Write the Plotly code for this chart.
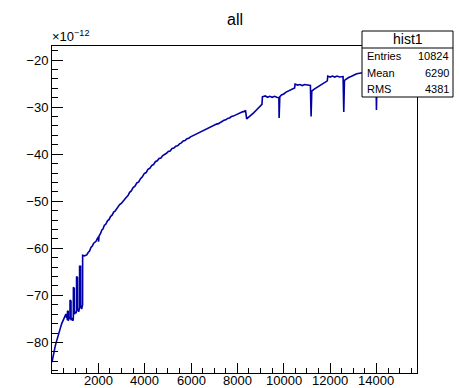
import plotly.graph_objects as go

# ---- data (x: bin, y: value in units of 1e-12) ----
x_vals = [0, 40, 80, 130, 170, 220, 270, 320, 370, 420, 470, 520, 560, 600,
          630, 650, 660, 667, 668, 700, 702, 740, 775, 778, 820, 822, 860, 900,
          920, 923, 960, 962, 1000, 1040, 1058, 1060, 1100, 1102, 1150, 1188,
          1190, 1235, 1237, 1280, 1320, 1322,
          1400, 1500, 1560, 1620, 1680, 1740, 1800, 1850, 1900, 1950, 2000, 2010, 2030,
          2100, 2150, 2200, 2260, 2320, 2400, 2460, 2520, 2600, 2660, 2720, 2800, 2860,
          2920, 3000, 3060, 3120, 3200, 3280, 3350, 3420, 3500, 3580, 3660, 3740, 3820,
          3900, 3980, 4060, 4140, 4220, 4300, 4380, 4460, 4540, 4620, 4700, 4780, 4860,
          4940, 5020, 5100, 5180, 5260, 5340, 5420, 5500, 5580, 5660, 5740, 5820, 5900,
          5980, 6060, 6140, 6220, 6300, 6380, 6460, 6540, 6620, 6700, 6780, 6860, 6940,
          7020, 7100, 7180, 7260, 7340, 7420, 7500, 7580, 7660, 7740, 7820, 7900, 7980,
          8060, 8140, 8220, 8300, 8350,
          8400, 8450, 8530, 8600, 8700, 8800, 8900, 9000, 9060, 9080, 9200, 9300, 9400,
          9500, 9600, 9700, 9790, 9800, 9830, 9900, 10000, 10100, 10200, 10300, 10400,
          10470, 10490, 10600, 10700, 10800, 10900, 11000, 11150, 11180, 11210, 11300,
          11400, 11500, 11600, 11700, 11800, 11880, 11900, 12000, 12100, 12200, 12300,
          12400, 12560, 12590, 12620, 12700, 12800, 12900, 13000, 13150, 13400, 13700,
          13980, 14000, 14030, 14300]
y_vals = [-84.2, -83.0, -82.0, -81.0, -80.2, -79.2, -78.3, -77.5, -76.8, -76.0, -75.4, -74.9, -74.4, -74.0,
          -74.8, -73.9, -75.3, -75.0, -73.4, -73.3, -75.4, -74.6, -75.0, -71.0, -71.2, -75.3, -74.8, -75.4,
          -75.0, -68.3, -68.5, -74.0, -73.6, -73.8, -73.2, -66.0, -66.2, -72.8, -73.5, -72.6,
          -63.8, -63.8, -72.4, -72.9, -72.0, -61.5,
          -61.6, -61.4, -60.9, -60.6, -59.8, -59.5, -58.9, -58.7, -58.5, -58.0, -57.6, -58.6, -57.4,
          -56.8, -56.1, -55.9, -55.1, -54.9, -54.1, -53.9, -53.3, -52.9, -52.3, -52.1, -51.5, -51.2,
          -50.7, -50.4, -49.9, -49.7, -49.2, -48.8, -48.1, -47.8, -47.1, -46.8, -46.1, -45.9, -45.2,
          -44.8, -44.1, -43.9, -43.2, -43.0, -42.4, -42.2, -41.6, -41.4, -40.9, -40.8, -40.3, -40.1,
          -39.8, -39.4, -39.3, -38.8, -38.7, -38.3, -38.2, -37.8, -37.6, -37.2, -37.1, -36.7, -36.6,
          -36.3, -36.1, -35.9, -35.7, -35.5, -35.4, -35.1, -35.0, -34.7, -34.6, -34.3, -34.2, -33.9,
          -33.8, -33.6, -33.5, -33.2, -33.1, -32.8, -32.7, -32.4, -32.3, -32.0, -31.9, -31.7, -31.6,
          -31.3, -31.2, -31.0, -30.9, -30.7,
          -32.5, -32.3, -32.0, -31.7, -31.2, -30.7, -30.2, -29.7, -29.4, -27.8, -27.6, -27.9, -27.7,
          -27.9, -27.7, -27.9, -28.0, -32.3, -27.8, -27.4, -27.2, -26.8, -26.6, -26.3, -26.1,
          -25.9, -25.1, -25.3, -25.2, -25.4, -25.2, -25.3, -25.4, -32.0, -26.6, -26.2,
          -25.9, -25.6, -25.3, -25.0, -24.7, -24.4, -23.4, -23.6, -23.4, -23.6, -23.4,
          -23.6, -23.5, -31.0, -24.3, -24.0, -23.7, -23.5, -23.3, -22.9, -22.7, -22.5,
          -22.4, -30.6, -22.4, -22.2]

title_text = "all"
stats_name = "hist1"
stats_labels = ["Entries", "Mean", "RMS"]
stats_values = ["10824", "6290", "4381"]
x_ticks = [2000, 4000, 6000, 8000, 10000, 12000, 14000]
x_ticktext = ["2000", "4000", "6000", "8000", "10000", "12000", "14000"]
y_ticks = [-80, -70, -60, -50, -40, -30, -20]

W, H = 460, 388
L, R, T, B = 52, 43, 46, 15
PW, PH = W - L - R, H - T - B


def px(x):
    return (x - L) / PW


def py(y):
    return (H - B - y) / PH


FONT = "Liberation Sans, Arial, Helvetica, sans-serif"

fig = go.Figure()
fig.add_trace(go.Scatter(x=x_vals, y=y_vals, mode="lines",
                         line=dict(color="rgb(0,0,165)", width=1.6),
                         hoverinfo="skip", showlegend=False))

fig.update_layout(
    width=W, height=H,
    margin=dict(l=L, r=R, t=T, b=B, autoexpand=False),
    paper_bgcolor="white", plot_bgcolor="white",
    font=dict(family=FONT, size=13, color="black"),
    showlegend=False,
)
fig.update_xaxes(range=[0, 15750], tickvals=x_ticks, ticks="inside", ticklen=10,
                 tickcolor="black", showgrid=False, zeroline=False, showticklabels=False,
                 showline=True, linecolor="black", linewidth=1, mirror=True,
                 minor=dict(ticks="inside", ticklen=5, dtick=500, tick0=0, tickcolor="black"),
                 automargin=False)
fig.update_yaxes(range=[-86.5, -17.0], tickvals=y_ticks, ticks="inside", ticklen=11,
                 tickcolor="black", showgrid=False, zeroline=False,
                 showline=True, linecolor="black", linewidth=1, mirror=True,
                 minor=dict(ticks="inside", ticklen=6, dtick=2, tick0=0, tickcolor="black"),
                 tickfont=dict(size=13, family=FONT), automargin=False)

# x tick labels (placed via the x axis scale)
for tv, tt in zip(x_ticks, x_ticktext):
    fig.add_annotation(text=tt, x=tv, y=py(380.6), xref="x", yref="paper",
                       showarrow=False, font=dict(size=13, family=FONT), borderpad=0,
                       xanchor="center", yanchor="middle")

# title
fig.add_annotation(text=title_text, x=px(235), y=py(19), xref="paper", yref="paper",
                   showarrow=False, font=dict(size=16, family=FONT), xanchor="center", yanchor="middle")
# exponent label
fig.add_annotation(text="×10<sup>−12</sup>", x=px(50), y=py(46), xref="paper", yref="paper",
                   showarrow=False, font=dict(size=13, family=FONT), xanchor="left", yanchor="bottom")

# stats box
bx0, bx1, by0, by1, bhead = 362, 453, 31, 97, 48
fig.add_shape(type="rect", xref="paper", yref="paper", x0=px(bx0), x1=px(bx1), y0=py(by1), y1=py(by0),
              fillcolor="white", line=dict(color="black", width=1), layer="above")
fig.add_shape(type="line", xref="paper", yref="paper", x0=px(bx0), x1=px(bx1), y0=py(bhead), y1=py(bhead),
              line=dict(color="black", width=1), layer="above")
fig.add_annotation(text=stats_name, x=px((bx0 + bx1) / 2), y=py(39.5), xref="paper", yref="paper",
                   showarrow=False, font=dict(size=14, family=FONT), xanchor="center", yanchor="middle")
row_y = [56, 72.5, 89]
for lab, val, ry in zip(stats_labels, stats_values, row_y):
    fig.add_annotation(text=lab, x=px(bx0 + 3), y=py(ry), xref="paper", yref="paper",
                       showarrow=False, font=dict(size=11, family=FONT), xanchor="left", yanchor="middle")
    fig.add_annotation(text=val, x=px(bx1 - 2), y=py(ry), xref="paper", yref="paper",
                       showarrow=False, font=dict(size=11, family=FONT), xanchor="right", yanchor="middle")

fig.write_html("out.html")
